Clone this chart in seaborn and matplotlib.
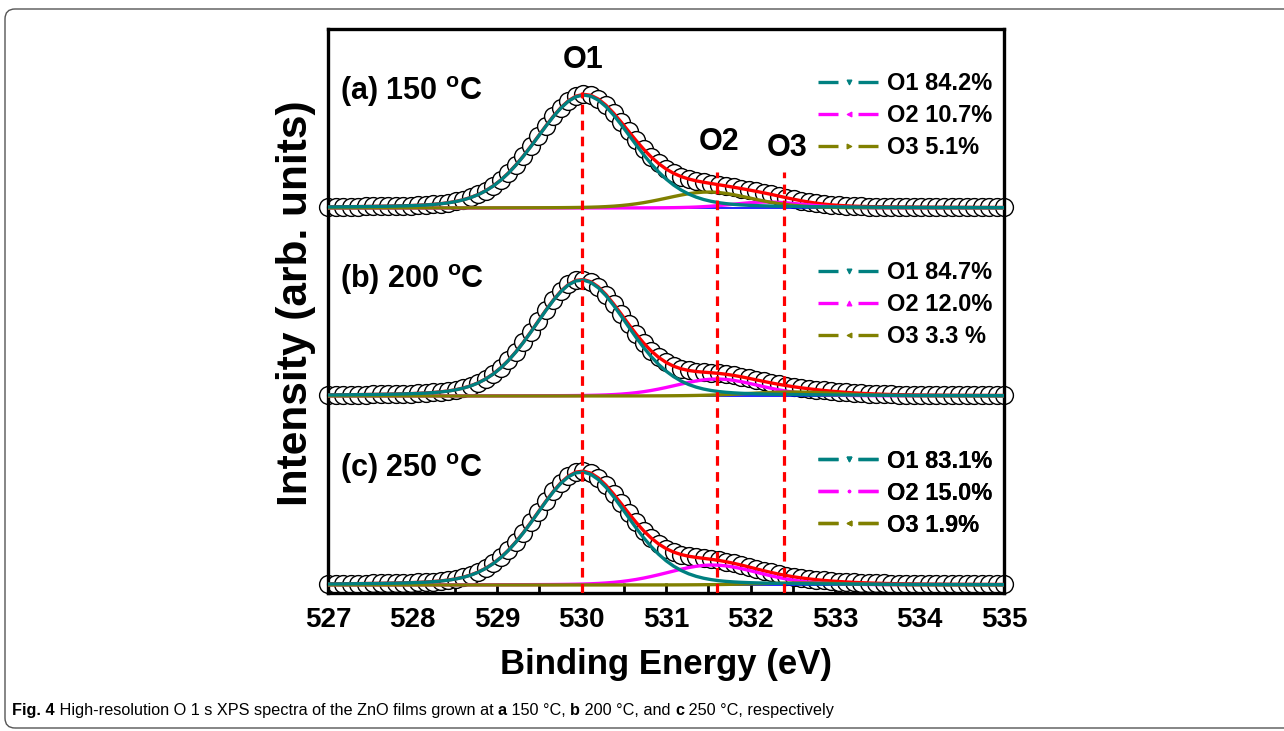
import numpy as np
import pandas as pd
import seaborn as sns
import matplotlib.pyplot as plt
from matplotlib.lines import Line2D
from matplotlib.patches import FancyBboxPatch
from matplotlib.transforms import IdentityTransform

# binding energy axis of the measured points (eV)
energy = np.round(np.linspace(527.0, 535.0, 91), 3)

panels = ['a', 'b', 'c']
panel_labels = ['(a) 150 $^{\\mathregular{o}}$C', '(b) 200 $^{\\mathregular{o}}$C', '(c) 250 $^{\\mathregular{o}}$C']
offsets = [3.85, 1.97, 0.08]  # vertical stacking of the spectra

# fitted components: centre (eV), FWHM (eV), height (arb.)
o1_center = [530.03, 530.0, 530.0]
o1_fwhm = [1.35, 1.3, 1.3]
o1_height = [1.13, 1.16, 1.13]
o2_center = [532.2, 531.6, 531.55]
o2_fwhm = [1.0, 1.2, 1.3]
o2_height = [0.06, 0.17, 0.20]
o3_center = [531.5, 532.5, 532.6]
o3_fwhm = [1.2, 1.3, 1.3]
o3_height = [0.16, 0.04, 0.02]
lorentz_mix = 0.2

legend_labels = [['O1 84.2%', 'O2 10.7%', 'O3 5.1%'],
                 ['O1 84.7%', 'O2 12.0%', 'O3 3.3 %'],
                 ['O1 83.1%', 'O2 15.0%', 'O3 1.9%']]
legend_markers = [['v', '<', '>'], ['v', '^', '<'], ['v', '.', '<']]

peak_names = ['O1', 'O2', 'O3']
peak_positions = [530.0, 531.6, 532.4]

c_o1, c_o2, c_o3 = '#008080', '#FF00FF', '#808000'
c_env, c_bg = '#FF0000', '#0000FF'


def gl(x, c, w, h):
    u = (x - c) / w
    return h * ((1 - lorentz_mix) * np.exp(-4 * np.log(2) * u ** 2) + lorentz_mix / (1 + 4 * u ** 2))


sns.set_style('ticks')
plt.rcParams['font.family'] = ['Liberation Sans', 'DejaVu Sans']
plt.rcParams['font.weight'] = 'bold'
plt.rcParams['mathtext.fontset'] = 'custom'
plt.rcParams['mathtext.rm'] = 'Liberation Sans:bold'
for key in ['text.color', 'axes.labelcolor', 'xtick.color', 'ytick.color', 'axes.edgecolor']:
    plt.rcParams[key] = 'black'

fig = plt.figure(figsize=(12.84, 7.31), dpi=100)
ax = fig.add_axes([0.2555, 0.1888, 0.5265, 0.7715])

for i in range(3):
    base = offsets[i]
    y1 = gl(energy, o1_center[i], o1_fwhm[i], o1_height[i])
    y2 = gl(energy, o2_center[i], o2_fwhm[i], o2_height[i])
    y3 = gl(energy, o3_center[i], o3_fwhm[i], o3_height[i])
    df = pd.DataFrame({'energy': energy, 'O1': y1 + base, 'O2': y2 + base,
                       'O3': y3 + base, 'fit': y1 + y2 + y3 + base, 'bg': base})

    sns.scatterplot(data=df, x='energy', y='fit', ax=ax, s=165, marker='o',
                    facecolor='white', edgecolor='black', linewidth=1.0,
                    zorder=2, clip_on=False, legend=False)
    sns.lineplot(data=df, x='energy', y='bg', ax=ax, color=c_bg, lw=1.2, zorder=3)
    sns.lineplot(data=df, x='energy', y='fit', ax=ax, color=c_env, lw=2.4, zorder=4)
    sns.lineplot(data=df, x='energy', y='O2', ax=ax, color=c_o2, lw=2.4, zorder=5)
    sns.lineplot(data=df, x='energy', y='O3', ax=ax, color=c_o3, lw=2.4, zorder=6)
    sns.lineplot(data=df, x='energy', y='O1', ax=ax, color=c_o1, lw=2.4, zorder=7)

    ax.text(527.14, base + 1.08, panel_labels[i], fontsize=22, fontweight='bold',
            ha='left', va='baseline')

    handles = [Line2D([], [], color=col, lw=2.4, linestyle=(0, (6, 6)),
                      marker=m, markersize=3.5, markeredgewidth=0.8)
               for col, m in zip([c_o1, c_o2, c_o3], legend_markers[i])]
    top = [0.924, 0.588, 0.254][i]
    leg = ax.legend(handles, legend_labels[i], loc='upper left', bbox_to_anchor=(0.725, top),
                    frameon=False, borderpad=0, borderaxespad=0, handlelength=2.6,
                    handletextpad=0.3, labelspacing=0.38, numpoints=1,
                    prop={'size': 17, 'weight': 'bold'})
    ax.add_artist(leg)

# dashed markers of the peak positions
line_tops = [5.01, 4.21, 4.21]
for xpos, ytop in zip(peak_positions, line_tops):
    ax.plot([xpos, xpos], [0, ytop], color='red', lw=2.3, linestyle=(0, (3, 2)), zorder=8)

ax.text(530.02, 5.33, 'O1', fontsize=22, fontweight='bold', ha='center', va='center')
ax.text(531.63, 4.51, 'O2', fontsize=22, fontweight='bold', ha='center', va='center')
ax.text(532.43, 4.45, 'O3', fontsize=22, fontweight='bold', ha='center', va='center')

ax.set_xlim(527, 535)
ax.set_ylim(0, 5.64)
ax.set_xticks(np.arange(527, 536, 1))
ax.set_xticks(np.arange(527.5, 535, 1), minor=True)
ax.set_xticklabels([str(v) for v in range(527, 536)])
ax.set_yticks([])
ax.tick_params(axis='x', which='both', direction='in', length=7, width=2, pad=10,
               labelsize=20, top=False)
for lab in ax.get_xticklabels():
    lab.set_fontweight('bold')
for sp in ax.spines.values():
    sp.set_linewidth(2.4)
    sp.set_visible(True)

ax.set_xlabel('Binding Energy (eV)', fontsize=25, fontweight='bold')
ax.set_ylabel('Intensity (arb. units)', fontsize=30.5, fontweight='bold')
ax.xaxis.set_label_coords(0.5, -0.097)
ax.yaxis.set_label_coords(-0.018, 0.513)

# outer frame of the figure panel
frame = FancyBboxPatch((5, 3), 1320, 719, boxstyle='round,pad=0,rounding_size=10',
                       transform=IdentityTransform(), fill=False, edgecolor='#555555', lw=1.0)
fig.patches.append(frame)

# caption
segments = [('Fig. 4', 'bold'),
            (' High-resolution O 1 s XPS spectra of the ZnO films grown at ', 'normal'),
            ('a', 'bold'), (' 150 \u00b0C, ', 'normal'), ('b', 'bold'),
            (' 200 \u00b0C, and ', 'normal'), ('c', 'bold'), (' 250 \u00b0C, respectively', 'normal')]
renderer = fig.canvas.get_renderer()
xcur = 12
for txt, wt in segments:
    t = fig.text(xcur / 1284, 0.0215, txt, fontsize=11.7, fontweight=wt,
                 family=['Liberation Sans', 'DejaVu Sans'], ha='left', va='baseline')
    xcur += t.get_window_extent(renderer).width

fig.savefig('out.png', dpi=100)
